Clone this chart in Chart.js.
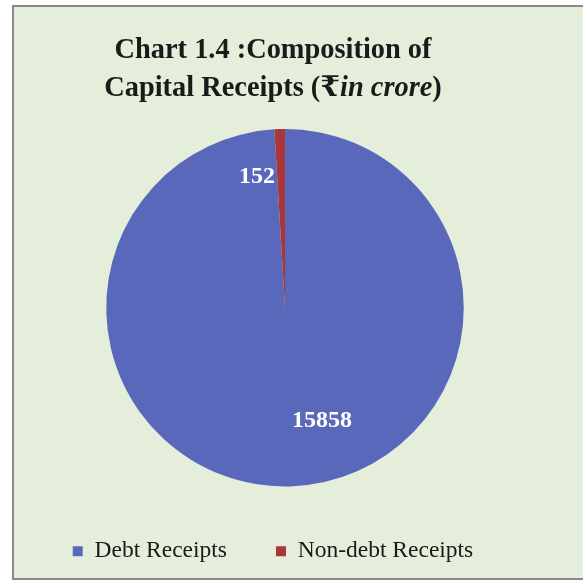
<!DOCTYPE html>
<html>
<head>
<meta charset="utf-8">
<script src="https://cdn.jsdelivr.net/npm/chart.js@4"></script>
<style>
html,body{margin:0;padding:0;background:#ffffff;}
#wrap{position:absolute;left:0;top:0;width:583px;height:582px;}
</style>
</head>
<body>
<div id="wrap"><canvas id="c" width="583" height="582"></canvas></div>
<script>
const categories = ["Debt Receipts", "Non-debt Receipts"];
const values = [15858, 152];
const titleLine1 = "Chart 1.4 :Composition of";
const titleLine2 = [["Capital Receipts (", "bold"], ["\u20B9", "bold"], ["in crore", "italic bold"], [")", "bold"]];

const colors = ["#5a68bc", "#a8363a"];
const bg = "#e4eedb";
const serif = '"Liberation Serif", "Times New Roman", "DejaVu Serif", serif';

// label placement styles (relative to each arc's geometry)
const labelStyle = [
  {angleOffset: -16.4, radiusFrac: 0.665, align: "center"},
  {angleOffset: -10.4, radiusFrac: 0.75, align: "center"}
];
const legendShiftX = -12;
const legendShiftY = 4;

const framePlugin = {
  id: "frame",
  afterLayout(chart) {
    if (chart.legend) {
      chart.legend.left += legendShiftX;
      chart.legend.right += legendShiftX;
      chart.legend.top += legendShiftY;
      chart.legend.bottom += legendShiftY;
    }
  },
  beforeDraw(chart) {
    const ctx = chart.ctx;
    ctx.save();
    ctx.fillStyle = "#ffffff";
    ctx.fillRect(0, 0, chart.width, chart.height);
    ctx.fillStyle = bg;
    ctx.fillRect(13, 6, chart.width, 573);
    ctx.strokeStyle = "#8a8a8a";
    ctx.lineWidth = 2;
    ctx.strokeRect(13, 6, chart.width + 10, 573);
    ctx.restore();
  },
  afterDraw(chart) {
    const ctx = chart.ctx;
    ctx.save();
    ctx.fillStyle = "#1a1a1a";
    ctx.textBaseline = "alphabetic";
    ctx.textAlign = "left";
    const cx = 273;
    const fs = 28.4;
    ctx.font = "bold " + fs + "px " + serif;
    const w1 = ctx.measureText(titleLine1).width;
    ctx.fillText(titleLine1, cx - w1 / 2, 58);
    let total = 0;
    titleLine2.forEach(([t, f]) => { ctx.font = f + " " + fs + "px " + serif; total += ctx.measureText(t).width; });
    let x = cx - total / 2;
    titleLine2.forEach(([t, f]) => { ctx.font = f + " " + fs + "px " + serif; ctx.fillText(t, x, 96); x += ctx.measureText(t).width; });
    ctx.restore();
  },
  afterDatasetsDraw(chart) {
    const ctx = chart.ctx;
    const meta = chart.getDatasetMeta(0);
    ctx.save();
    ctx.fillStyle = "#ffffff";
    ctx.font = "bold 24px " + serif;
    ctx.textBaseline = "middle";
    meta.data.forEach((arc, i) => {
      const p = arc.getProps(["x", "y", "startAngle", "endAngle", "outerRadius"], true);
      const st = labelStyle[i];
      const a = (p.startAngle + p.endAngle) / 2 + st.angleOffset * Math.PI / 180;
      const r = p.outerRadius * st.radiusFrac;
      ctx.textAlign = st.align;
      ctx.fillText(String(chart.data.datasets[0].data[i]), p.x + r * Math.cos(a), p.y + r * Math.sin(a));
    });
    ctx.restore();
  }
};

new Chart(document.getElementById("c"), {
  type: "pie",
  data: {
    labels: categories,
    datasets: [{data: values, backgroundColor: colors, borderWidth: 0}]
  },
  options: {
    responsive: false,
    animation: false,
    layout: {padding: {top: 129, left: 0, right: 13, bottom: 13}},
    plugins: {
      tooltip: {enabled: false},
      title: {display: false},
      legend: {
        position: "bottom",
        maxHeight: 95,
        labels: {
          boxWidth: 10,
          boxHeight: 10,
          padding: 49,
          color: "#1a1a1a",
          font: {family: serif, size: 23.5}
        }
      }
    }
  },
  plugins: [framePlugin]
});
</script>
</body>
</html>
